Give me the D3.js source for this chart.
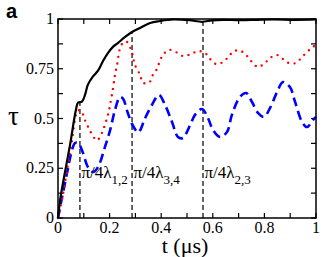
<!DOCTYPE html>
<html>
<head>
<meta charset="utf-8">
<style>
body{ margin:0; background:#fff; }
</style>
</head>
<body>
<div id="target"></div>
<script src="https://cdn.jsdelivr.net/npm/d3@7.8.3/dist/d3.min.js"></script>
<script>
    // tau vs t, three curves
    const width = 332;
    const height = 257;
    const serif = "Liberation Serif, DejaVu Serif, Times New Roman, serif";

    const xTicks = [0, 0.2, 0.4, 0.6, 0.8, 1];
    const xTickLabels = ["0", "0.2", "0.4", "0.6", "0.8", "1"];
    const yTicks = [0, 0.25, 0.5, 0.75, 1];
    const yTickLabels = ["0", "0.25", "0.5", "0.75", "1"];

    // solid black
    const blackT = [0, 0.008, 0.027, 0.047, 0.069, 0.078, 0.093, 0.105, 0.116, 0.135, 0.155, 0.175, 0.194, 0.213, 0.233, 0.26, 0.287, 0.318, 0.357, 0.395, 0.446, 0.51, 0.558, 0.597, 0.639, 0.705, 0.771, 0.833, 0.922, 1];
    const blackV = [0, 0.09, 0.23, 0.37, 0.54, 0.58, 0.585, 0.62, 0.67, 0.71, 0.74, 0.79, 0.83, 0.86, 0.88, 0.91, 0.935, 0.955, 0.98, 0.99, 0.998, 0.994, 0.986, 0.993, 0.996, 0.994, 0.996, 0.998, 0.996, 0.998];

    // red dotted
    const redT = [0, 0.019, 0.039, 0.054, 0.07, 0.078, 0.089, 0.105, 0.116, 0.132, 0.151, 0.171, 0.182, 0.194, 0.202, 0.213, 0.221, 0.229, 0.24, 0.252, 0.267, 0.287, 0.298, 0.318, 0.329, 0.353, 0.368, 0.384, 0.395, 0.407, 0.43, 0.457, 0.484, 0.516, 0.543, 0.57, 0.589, 0.612, 0.64, 0.663, 0.682, 0.709, 0.733, 0.752, 0.775, 0.802, 0.822, 0.849, 0.872, 0.895, 0.922, 0.946, 0.965, 0.988, 1];
    const redV = [0, 0.116, 0.27, 0.39, 0.52, 0.54, 0.54, 0.49, 0.46, 0.42, 0.39, 0.43, 0.47, 0.52, 0.57, 0.65, 0.72, 0.77, 0.85, 0.88, 0.885, 0.83, 0.77, 0.72, 0.68, 0.68, 0.72, 0.75, 0.79, 0.82, 0.845, 0.834, 0.814, 0.824, 0.839, 0.829, 0.8, 0.774, 0.784, 0.814, 0.839, 0.839, 0.814, 0.784, 0.759, 0.779, 0.804, 0.819, 0.799, 0.779, 0.779, 0.809, 0.834, 0.859, 0.87];

    // blue dashed
    const blueT = [0, 0.016, 0.035, 0.054, 0.066, 0.078, 0.097, 0.116, 0.136, 0.155, 0.182, 0.202, 0.221, 0.24, 0.252, 0.27, 0.29, 0.31, 0.318, 0.337, 0.364, 0.391, 0.415, 0.442, 0.465, 0.484, 0.512, 0.531, 0.558, 0.581, 0.601, 0.628, 0.655, 0.674, 0.705, 0.729, 0.752, 0.775, 0.798, 0.822, 0.849, 0.872, 0.899, 0.919, 0.946, 0.965, 0.988, 1];
    const blueV = [0, 0.106, 0.226, 0.34, 0.377, 0.377, 0.327, 0.256, 0.231, 0.256, 0.357, 0.442, 0.543, 0.608, 0.6, 0.53, 0.465, 0.43, 0.44, 0.5, 0.568, 0.618, 0.568, 0.482, 0.407, 0.402, 0.467, 0.518, 0.548, 0.503, 0.442, 0.407, 0.432, 0.518, 0.608, 0.628, 0.583, 0.528, 0.508, 0.553, 0.633, 0.683, 0.658, 0.583, 0.482, 0.457, 0.492, 0.508];

    // vertical markers
    const markT = [0.085, 0.287, 0.562];
    const markLabels = ["1,2", "3,4", "2,3"];

    const margin = {top: 19, right: 16, bottom: 39, left: 58};

    const svg = d3.select("#target")
        .append("svg")
        .attr("width", width)
        .attr("height", height)
        .attr("font-family", serif);

    const xScale = d3.scaleLinear()
        .domain([0, 1])
        .range([margin.left, width - margin.right]);

    const yScale = d3.scaleLinear()
        .domain([0, 1])
        .range([height - margin.bottom, margin.top]);

    const x0 = xScale(0), x1 = xScale(1), y0 = yScale(0), y1 = yScale(1);

    // ticks on all four sides, pointing in
    const xMinor = d3.range(0, 1.0001, 0.1);
    const yMinor = d3.range(0, 1.0001, 0.125);
    const tickG = svg.append("g").attr("stroke", "#000").attr("stroke-width", 1.2);
    xMinor.forEach(t => {
        tickG.append("line").attr("x1", xScale(t)).attr("x2", xScale(t)).attr("y1", y0).attr("y2", y0 - 5);
        tickG.append("line").attr("x1", xScale(t)).attr("x2", xScale(t)).attr("y1", y1).attr("y2", y1 + 5);
    });
    yMinor.forEach(v => {
        tickG.append("line").attr("y1", yScale(v)).attr("y2", yScale(v)).attr("x1", x0).attr("x2", x0 + 5);
        tickG.append("line").attr("y1", yScale(v)).attr("y2", yScale(v)).attr("x1", x1).attr("x2", x1 - 5);
    });

    const line = d3.line()
        .x(d => xScale(d[0]))
        .y(d => yScale(d[1]))
        .curve(d3.curveCatmullRom);

    const black = d3.zip(blackT, blackV);
    const red = d3.zip(redT, redV);
    const blue = d3.zip(blueT, blueV);

    // markers go from 0 up to the black curve
    const blackAt = t => {
        const i = d3.bisectLeft(blackT, t);
        const a = black[i - 1], b = black[i];
        return a[1] + (b[1] - a[1]) * (t - a[0]) / (b[0] - a[0]);
    };
    svg.append("g").selectAll("line")
        .data(markT)
        .join("line")
        .attr("x1", d => xScale(d)).attr("x2", d => xScale(d))
        .attr("y1", y0).attr("y2", d => yScale(blackAt(d)))
        .attr("stroke", "#000")
        .attr("stroke-width", 1.2)
        .attr("stroke-dasharray", "5 3");

    svg.append("path")
        .datum(blue)
        .attr("fill", "none")
        .attr("stroke", "#0000ff")
        .attr("stroke-width", 2.6)
        .attr("stroke-dasharray", "9 5")
        .attr("d", line);

    svg.append("path")
        .datum(red)
        .attr("fill", "none")
        .attr("stroke", "#ff0000")
        .attr("stroke-width", 2.4)
        .attr("stroke-linecap", "round")
        .attr("stroke-dasharray", "0 6.5")
        .attr("d", line);

    svg.append("path")
        .datum(black)
        .attr("fill", "none")
        .attr("stroke", "#000")
        .attr("stroke-width", 2.2)
        .attr("d", line);

    // frame
    svg.append("rect")
        .attr("x", x0).attr("y", y1)
        .attr("width", x1 - x0).attr("height", y0 - y1)
        .attr("fill", "none")
        .attr("stroke", "#000")
        .attr("stroke-width", 1.5);

    // tick labels
    svg.append("g").selectAll("text")
        .data(xTicks)
        .join("text")
        .attr("x", d => xScale(d))
        .attr("y", y0 + 15)
        .attr("text-anchor", "middle")
        .attr("font-size", 16)
        .text((d, i) => xTickLabels[i]);

    svg.append("g").selectAll("text")
        .data(yTicks)
        .join("text")
        .attr("x", x0 - 4)
        .attr("y", d => yScale(d) + 5)
        .attr("text-anchor", "end")
        .attr("font-size", 16)
        .text((d, i) => yTickLabels[i]);

    // marker labels
    const lab = svg.append("g").selectAll("text")
        .data(markT)
        .join("text")
        .attr("x", d => xScale(d) + 1.5)
        .attr("y", 178)
        .attr("font-size", 17);
    lab.append("tspan").text("π/4λ");
    lab.append("tspan").attr("dy", 6).attr("font-size", 13).text((d, i) => markLabels[i]);

    // axis titles
    svg.append("text")
        .attr("x", 185).attr("y", 253)
        .attr("text-anchor", "middle")
        .attr("font-size", 22)
        .text("t (μs)");

    svg.append("text")
        .attr("x", 8).attr("y", 125)
        .attr("font-size", 27)
        .text("τ");

    svg.append("text")
        .attr("x", 6).attr("y", 18)
        .attr("font-family", "Liberation Sans, Arial, sans-serif")
        .attr("font-weight", "bold")
        .attr("font-size", 20)
        .text("a");
</script>
</body>
</html>
